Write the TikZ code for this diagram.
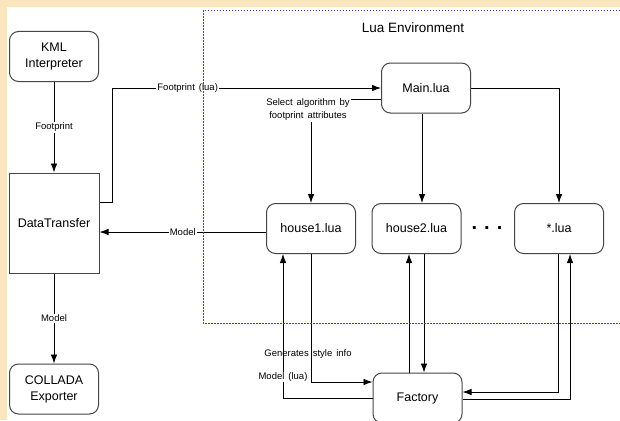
\documentclass[tikz,border=0pt]{standalone}
\usepackage{fontspec}
\setmainfont{Liberation Sans}
\usetikzlibrary{arrows.meta,positioning}
\definecolor{paper}{RGB}{249,229,190}
\definecolor{luaframe}{RGB}{70,60,180}
\definecolor{boxline}{RGB}{70,70,70}
\newcommand{\lblfont}{\fontsize{9.5}{13}\selectfont\spaceskip=4pt}

\begin{document}
\begin{tikzpicture}[x=1pt, y=-1pt,
    arr/.style = {draw=black, line width=0.8pt, -{Latex[length=9pt,width=6.5pt]}},
    rbox/.style = {rectangle, rounded corners=9pt, draw=boxline, line width=1pt, fill=white, minimum width=89pt, minimum height=50pt, align=center, font=\fontsize{12.5}{16}\selectfont},
    sbox/.style = {rectangle, draw=boxline, line width=1pt, fill=white, minimum width=90pt, minimum height=100pt, align=center, font=\fontsize{12.5}{16}\selectfont},
    lbl/.style = {fill=white, inner sep=1pt, align=center, font=\lblfont}]
    \useasboundingbox (0,0) rectangle (620,420);
    \fill[paper] (0,0) rectangle (620,420);
    \fill[white] (7,7) rectangle (620,420);

    \node[rbox] (kml) at (54,56.5) {KML\\Interpreter};
    \node[sbox] (dt) at (54,223) {DataTransfer};
    \node[rbox] (collada) at (54,389) {COLLADA\\Exporter};
    \node[rbox] (main) at (426,88) {Main.lua};
    \node[rbox] (house1) at (311,228.5) {house1.lua};
    \node[rbox] (house2) at (416.5,228.5) {house2.lua};
    \node[rbox] (star) at (559,228.5) {*.lua};
    \node[rbox] (factory) at (417.5,398) {Factory};
    \node (dots) at (487,228) {\fontsize{20}{20}\selectfont\bfseries .\hspace{7pt}.\hspace{7pt}.};
    \node[font=\fontsize{13.5}{16}\selectfont] (luaenv) at (413,28) {Lua Environment};

    \draw[arr] (kml) -- node[lbl] {Footprint} (dt);
    \draw[arr] (dt) -- node[lbl] {Model} (collada);
    \draw[arr] ([yshift=21pt]dt.east) -- ++(13,0) |- node[lbl, pos=0.64] {Footprint (lua)} (main.west);
    \draw[arr] ([yshift=-11pt]main.west) -| node[lbl, pos=0.5, xshift=-3pt, yshift=-11pt] {Select algorithm by\\footprint attributes} (house1.north);
    \draw[arr] ([xshift=-4pt]main.south) -- ([xshift=-4pt]main.south |- house2.north);
    \draw[arr] (main.east) -| (star.north);
    \draw[arr] ([yshift=-3.5pt]house1.west) -- node[lbl] {Model} ([yshift=-3.5pt]house1.west -| dt.east);
    \draw[arr] (house1.south) |- node[lbl, fill=none, pos=0.39, xshift=-3pt] {Generates style info} ([yshift=16pt]factory.west);
    \draw[arr] (factory.west) -| node[lbl, pos=0.573] {Model (lua)} ([xshift=-28pt]house1.south);
    \draw[arr] ([xshift=-8.5pt]factory.north) -- ([xshift=-8.5pt]factory.north |- house2.south);
    \draw[arr] ([xshift=7.5pt]house2.south) -- ([xshift=7.5pt]house2.south |- factory.north);
    \draw[arr] ([xshift=-1pt]star.south) |- ([yshift=6pt]factory.east);
    \draw[arr] ([yshift=-1pt]factory.east) -| ([xshift=11pt]star.south);

    \draw[luaframe, line width=0.9pt, dash pattern=on 1.5pt off 1.5pt] (620,10) -- (203,10) -- (203,323) -- (620,323);
\end{tikzpicture}
\end{document}
